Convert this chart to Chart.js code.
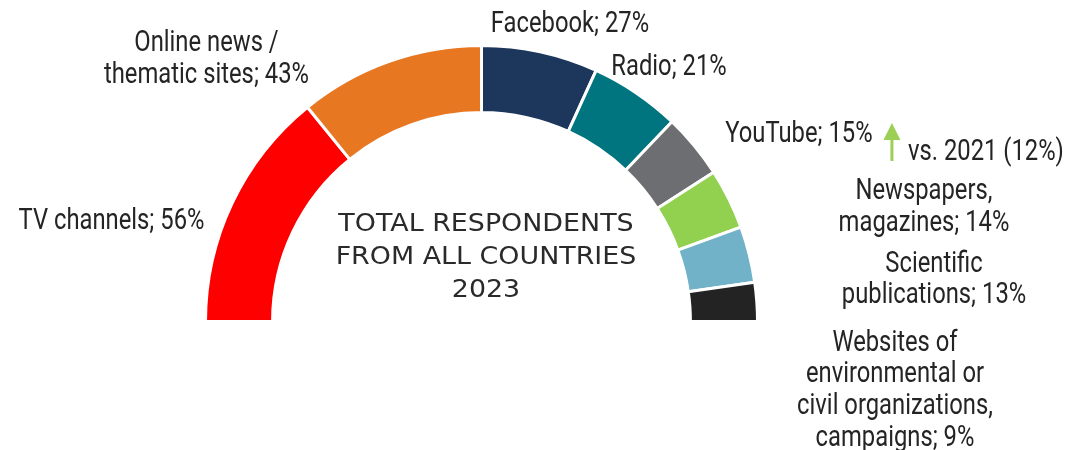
<!DOCTYPE html>
<html>
<head>
<meta charset="utf-8">
<script src="https://cdn.jsdelivr.net/npm/chart.js@4"></script>
<style>
  html, body { margin: 0; padding: 0; background: #ffffff; }
  #wrap { width: 1069px; height: 450px; }
</style>
</head>
<body>
<div id="wrap"><canvas id="c" width="1069" height="450"></canvas></div>
<script>
// ---- data ----
const categories = [
  'TV channels',
  'Online news /\nthematic sites',
  'Facebook',
  'Radio',
  'YouTube',
  'Newspapers,\nmagazines',
  'Scientific\npublications',
  'Websites of\nenvironmental or\ncivil organizations,\ncampaigns'
];
const values = [56, 43, 27, 21, 15, 14, 13, 9];
const colors = ['#FF0000', '#E87722', '#1D365B', '#00747F', '#6D6E71', '#92D050', '#71B2C9', '#232323'];
const youtube2021 = 12;
const centerTitle = ['TOTAL RESPONDENTS', 'FROM ALL COUNTRIES', '2023'];

// label offsets from each slice's outer mid-point: [dx (text centre), dy (first baseline)]
const labelOffsets = [
  [-120.8, 26.1],
  [-182.7, -10.4],
  [29.8, -19.8],
  [32.8, -17.9],
  [104.6, -4.1],
  [195.2, 0],
  [184.8, 17.4],
  [138.2, 48.9]
];

const LABEL_FONT = '29px Roboto';
const LABEL_SX = 0.82;
const LINE_H = 31.6;

function drawScaledText(ctx, text, x, y, sx) {
  ctx.save();
  ctx.translate(x, y);
  ctx.scale(sx, 1);
  ctx.fillText(text, 0, 0);
  ctx.restore();
}

const labelPlugin = {
  id: 'sliceLabels',
  afterDraw(chart) {
    const ctx = chart.ctx;
    const meta = chart.getDatasetMeta(0);
    ctx.save();
    ctx.fillStyle = '#242424';
    ctx.textAlign = 'center';
    ctx.textBaseline = 'alphabetic';
    ctx.font = LABEL_FONT;
    let ytAnchor = null, cx = 0, cy = 0;
    meta.data.forEach((arc, i) => {
      const p = arc.getProps(['x', 'y', 'startAngle', 'endAngle', 'outerRadius'], true);
      cx = p.x; cy = p.y;
      const mid = (p.startAngle + p.endAngle) / 2;
      const ax = p.x + Math.cos(mid) * p.outerRadius;
      const ay = p.y + Math.sin(mid) * p.outerRadius;
      if (i === 4) ytAnchor = [ax, ay];
      const lines = (categories[i] + '; ' + values[i] + '%').split('\n');
      const [dx, dy] = labelOffsets[i];
      lines.forEach((ln, k) => {
        drawScaledText(ctx, ln, ax + dx, ay + dy + k * LINE_H, LABEL_SX);
      });
    });
    // YouTube comparison arrow and note
    if (ytAnchor) {
      const [ax, ay] = ytAnchor;
      const x = ax + 197.6, top = ay - 22.8, bot = ay + 15.2;
      ctx.strokeStyle = '#9BD055';
      ctx.fillStyle = '#9BD055';
      ctx.lineWidth = 3;
      ctx.beginPath();
      ctx.moveTo(x, bot);
      ctx.lineTo(x, top + 12);
      ctx.stroke();
      ctx.beginPath();
      ctx.moveTo(x, top);
      ctx.lineTo(x - 8.5, top + 17);
      ctx.lineTo(x + 8.5, top + 17);
      ctx.closePath();
      ctx.fill();
      ctx.fillStyle = '#242424';
      drawScaledText(ctx, 'vs. 2021 (' + youtube2021 + '%)', ax + 291.6, ay + 13.8, LABEL_SX);
    }
    // centre title
    ctx.fillStyle = '#2a2a2a';
    ctx.font = '24px "DejaVu Sans"';
    centerTitle.forEach((t, k) => {
      drawScaledText(ctx, t, cx + 4.5, cy - 90.8 + k * 33.3, 1.12);
    });
    ctx.restore();
  }
};

new Chart(document.getElementById('c'), {
  type: 'doughnut',
  data: {
    labels: categories.map(s => s.replace(/\n/g, ' ')),
    datasets: [{
      data: values,
      backgroundColor: colors,
      borderColor: '#ffffff',
      borderWidth: 3
    }]
  },
  options: {
    responsive: false,
    animation: false,
    rotation: -90,
    circumference: 180,
    cutout: '75.7%',
    layout: { padding: { left: 181.5, right: 287.5, top: 44, bottom: 127 } },
    plugins: {
      legend: { display: false },
      tooltip: { enabled: false }
    }
  },
  plugins: [labelPlugin]
});
</script>
</body>
</html>
